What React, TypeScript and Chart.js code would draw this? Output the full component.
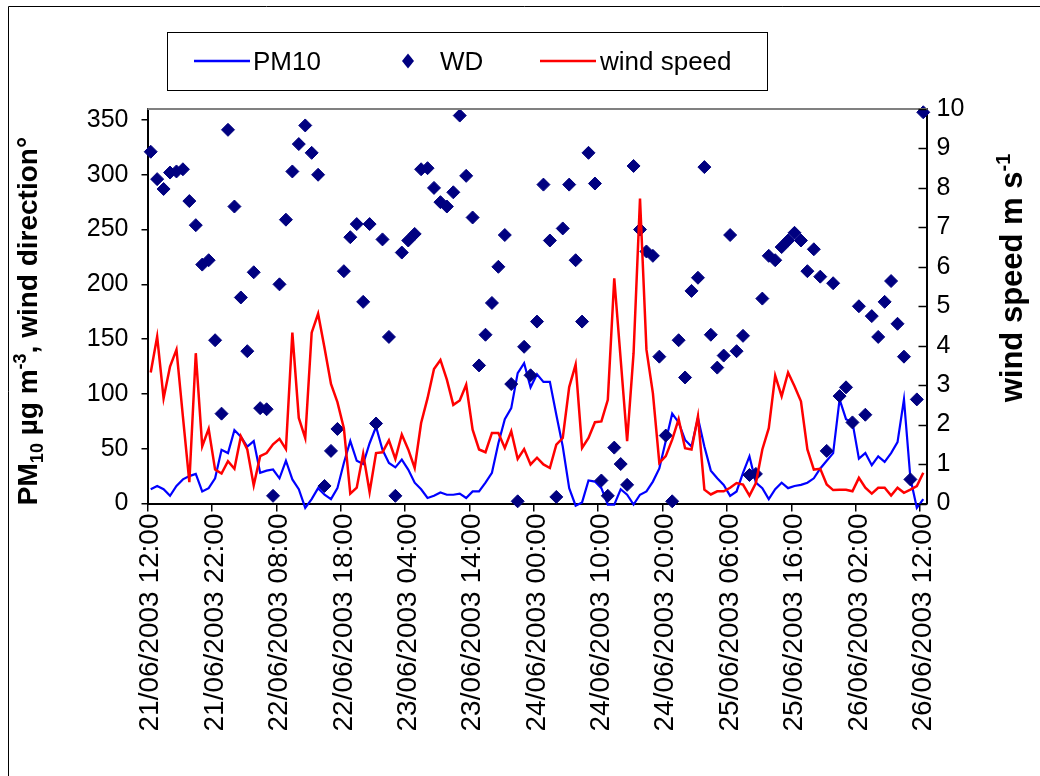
import React, { useEffect, useRef } from 'react';
import { Chart, registerables } from 'chart.js';
Chart.register(...registerables);

const FONT = "'Liberation Sans', Arial, sans-serif";

// Hourly categories from 21/06/2003 12:00 to 26/06/2003 12:00
const startDay = 21;
const startHour = 12;
const hourCount = 121;
const categories: string[] = Array.from({ length: hourCount }, (_, i) => {
  const t = startHour + i;
  const d = startDay + Math.floor(t / 24);
  const h = t % 24;
  return `${d}/06/2003 ${String(h).padStart(2, '0')}:00`;
});

const pm10 = [
  13, 16, 13, 7, 16, 22, 25, 27, 11, 14,
  23, 49, 46, 67, 61, 52, 57, 28, 30, 31,
  23, 39, 22, 13, -4, 4, 14, 8, 4, 14,
  37, 57, 39, 36, 55, 70, 49, 37, 33, 40,
  31, 19, 13, 5, 7, 10, 8, 8, 9, 5,
  11, 11, 19, 28, 55, 77, 87, 119, 128, 106,
  118, 111, 111, 81, 52, 14, -2, 1, 21, 20,
  14, -1, -1, 13, 8, -1, 8, 11, 20, 32,
  57, 82, 74, 58, 52, 78, 52, 30, 23, 17,
  7, 11, 28, 43, 19, 14, 4, 13, 19, 14,
  16, 17, 19, 23, 32, 39, 46, 95, 77, 74,
  41, 46, 35, 43, 38, 46, 56, 95, 23, -4,
  4,
];

const windDir = [
  321, 296, 287, 302, 303, 305, 276, 254, 218, 222,
  149, 82, 341, 271, 188, 139, 211, 87, 86, 7,
  200, 259, 303, 328, 345, 320, 300, 16, 48, 68,
  212, 243, 255, 184, 255, 73, 241, 152, 7, 229,
  240, 246, 305, 306, 288, 275, 271, 284, 354, 299,
  261, 126, 154, 183, 216, 245, 109, 2, 143, 117,
  166, 291, 240, 6, 251, 291, 222, 166, 320, 292,
  21, 7, 51, 36, 17, 308, 250, 230, 226, 134,
  62, 2, 149, 115, 194, 206, 307, 154, 124, 135,
  245, 139, 153, 26, 27, 187, 226, 222, 234, 240,
  247, 240, 212, 232, 207, 48, 201, 98, 106, 74,
  180, 81, 171, 152, 184, 203, 164, 134, 22, 95,
  357,
];

const windSpeed = [
  3.32, 4.23, 2.67, 3.47, 3.9, 2.2, 0.54, 3.81, 1.45, 1.89,
  0.86, 0.76, 1.07, 0.88, 1.7, 1.37, 0.46, 1.2, 1.28, 1.5,
  1.64, 1.38, 4.33, 2.17, 1.66, 4.33, 4.81, 3.94, 3.03, 2.57,
  1.91, 0.25, 0.4, 1.26, 0.29, 1.28, 1.3, 1.6, 1.13, 1.75,
  1.37, 0.9, 2.04, 2.67, 3.41, 3.64, 3.14, 2.5, 2.61, 3.01,
  1.87, 1.37, 1.3, 1.79, 1.79, 1.41, 1.83, 1.13, 1.38, 0.99,
  1.16, 0.99, 0.9, 1.49, 1.66, 2.95, 3.52, 1.41, 1.66, 2.06,
  2.08, 2.63, 5.71, 3.65, 1.58, 3.81, 7.73, 3.9, 2.8, 1.03,
  1.2, 1.62, 2.14, 1.4, 1.37, 2.21, 0.35, 0.23, 0.31, 0.31,
  0.4, 0.52, 0.48, 0.2, 0.52, 1.37, 1.91, 3.24, 2.72, 3.32,
  2.97, 2.59, 1.37, 0.86, 0.88, 0.48, 0.34, 0.35, 0.35, 0.31,
  0.65, 0.4, 0.25, 0.4, 0.4, 0.2, 0.4, 0.27, 0.35, 0.44,
  0.78,
];

const leftTicks = { min: 0, max: 360, step: 50 };
const rightTicks = { min: 0, max: 10, step: 1 };
const legendLabels = ['PM10', 'WD', 'wind speed'];

const W = 1040;
const H = 776;
const PLOT_LEFT = 147.5;
const PLOT_RIGHT = 926.5;
const PLOT_TOP = 109;
const PLOT_BOTTOM = 503.5;

const BLUE = '#0000ff';
const RED = '#ff0000';
const NAVY = '#000080';

type Seg = { t: string; k?: 'sub' | 'sup' };

function drawRich(ctx: CanvasRenderingContext2D, segs: Seg[], cx: number, cy: number, size: number) {
  const parts = segs.map((s) => {
    const fs = s.k ? Math.round(size * 0.64) : size;
    ctx.font = `bold ${fs}px ${FONT}`;
    return { ...s, fs, w: ctx.measureText(s.t).width };
  });
  const total = parts.reduce((a, p) => a + p.w, 0);
  ctx.save();
  ctx.translate(cx, cy);
  ctx.rotate(-Math.PI / 2);
  ctx.fillStyle = '#000';
  ctx.textBaseline = 'alphabetic';
  ctx.textAlign = 'left';
  let x = -total / 2;
  const base = size * 0.36;
  for (const p of parts) {
    ctx.font = `bold ${p.fs}px ${FONT}`;
    const dy = p.k === 'sub' ? size * 0.22 : p.k === 'sup' ? -size * 0.38 : 0;
    ctx.fillText(p.t, x, base + dy);
    x += p.w;
  }
  ctx.restore();
}

const extrasPlugin = {
  id: 'extras',
  afterDraw(chart: any) {
    const ctx: CanvasRenderingContext2D = chart.ctx;
    const { left, right, top } = chart.chartArea;
    ctx.save();

    // top edge of plot area
    ctx.strokeStyle = '#808080';
    ctx.lineWidth = 2;
    ctx.beginPath();
    ctx.moveTo(left, top);
    ctx.lineTo(right + 1, top);
    ctx.stroke();

    // inner tick marks of the right axis
    const y1 = chart.scales.y1;
    ctx.strokeStyle = '#000';
    ctx.lineWidth = 1.5;
    y1.ticks.forEach((t: any) => {
      const py = Math.round(y1.getPixelForValue(t.value)) + 0.5;
      ctx.beginPath();
      ctx.moveTo(right - 8, py);
      ctx.lineTo(right, py);
      ctx.stroke();
    });

    // outer frame
    ctx.strokeStyle = '#000';
    ctx.lineWidth = 1;
    ctx.beginPath();
    ctx.moveTo(8.5, H);
    ctx.lineTo(8.5, 6.5);
    ctx.lineTo(W, 6.5);
    ctx.stroke();

    // legend
    ctx.strokeStyle = '#000';
    ctx.lineWidth = 1;
    ctx.strokeRect(167.5, 32.5, 600, 58);
    ctx.font = `26px ${FONT}`;
    ctx.fillStyle = '#000';
    ctx.textBaseline = 'alphabetic';
    ctx.textAlign = 'left';
    const ly = 61;
    ctx.strokeStyle = BLUE;
    ctx.lineWidth = 2.5;
    ctx.beginPath();
    ctx.moveTo(194, ly);
    ctx.lineTo(250, ly);
    ctx.stroke();
    ctx.fillText(legendLabels[0], 253, 70);
    ctx.fillStyle = NAVY;
    ctx.beginPath();
    ctx.moveTo(408, ly - 7.5);
    ctx.lineTo(414, ly);
    ctx.lineTo(408, ly + 7.5);
    ctx.lineTo(402, ly);
    ctx.closePath();
    ctx.fill();
    ctx.fillStyle = '#000';
    ctx.fillText(legendLabels[1], 440, 70);
    ctx.strokeStyle = RED;
    ctx.beginPath();
    ctx.moveTo(540, ly);
    ctx.lineTo(596, ly);
    ctx.stroke();
    ctx.fillText(legendLabels[2], 600, 70);

    // axis titles
    drawRich(
      ctx,
      [{ t: 'PM' }, { t: '10', k: 'sub' }, { t: ' µg m' }, { t: '-3', k: 'sup' }, { t: ', wind direction°' }],
      27,
      321,
      28
    );
    drawRich(ctx, [{ t: 'wind speed m s' }, { t: '-1', k: 'sup' }], 1011, 278, 31);

    ctx.restore();
  },
};

export default function App() {
  const ref = useRef<HTMLCanvasElement>(null);
  useEffect(() => {
    document.body.style.margin = '0';
    const tickFont = { family: FONT, size: 25 };
    const chart = new Chart(ref.current as HTMLCanvasElement, {
      type: 'line',
      data: {
        labels: categories,
        datasets: [
          {
            label: legendLabels[0],
            data: pm10,
            yAxisID: 'y',
            borderColor: BLUE,
            backgroundColor: BLUE,
            borderWidth: 2.2,
            pointRadius: 0,
            tension: 0,
            clip: false as any,
            order: 3,
          },
          {
            label: legendLabels[1],
            data: windDir,
            yAxisID: 'y',
            showLine: false,
            pointStyle: 'rectRot',
            pointRadius: 6.5,
            pointBackgroundColor: NAVY,
            pointBorderColor: NAVY,
            pointBorderWidth: 1,
            clip: false as any,
            order: 2,
          },
          {
            label: legendLabels[2],
            data: windSpeed,
            yAxisID: 'y1',
            borderColor: RED,
            backgroundColor: RED,
            borderWidth: 2.5,
            pointRadius: 0,
            tension: 0,
            order: 1,
          },
        ],
      },
      options: {
        responsive: false,
        animation: false,
        devicePixelRatio: 1,
        layout: { padding: { top: PLOT_TOP, left: 0, right: 0, bottom: 0 } },
        plugins: { legend: { display: false }, tooltip: { enabled: false } },
        scales: {
          x: {
            type: 'category',
            offset: true,
            afterFit: (s: any) => {
              s.height = H - PLOT_BOTTOM;
            },
            grid: {
              display: true,
              drawOnChartArea: false,
              drawTicks: true,
              tickLength: 8,
              offset: true,
              lineWidth: 1.5,
              color: (c: any) => (c.index % 10 === 0 ? '#000' : 'rgba(0,0,0,0)'),
            },
            border: { display: true, color: '#000', width: 2 },
            ticks: {
              autoSkip: false,
              minRotation: 90,
              maxRotation: 90,
              padding: 2,
              color: '#000',
              font: { family: FONT, size: 28 },
              callback: (_v: any, i: number) => (i % 10 === 0 ? categories[i] : ''),
            },
          },
          y: {
            position: 'left',
            min: leftTicks.min,
            max: leftTicks.max,
            afterFit: (s: any) => {
              s.width = PLOT_LEFT;
            },
            ticks: { stepSize: leftTicks.step, includeBounds: false, padding: 13, color: '#000', font: tickFont },
            grid: { drawOnChartArea: false, drawTicks: true, tickLength: 6, color: '#000', lineWidth: 1.5 },
            border: { display: true, color: '#000', width: 2 },
          },
          y1: {
            position: 'right',
            min: rightTicks.min,
            max: rightTicks.max,
            afterFit: (s: any) => {
              s.width = W - PLOT_RIGHT;
            },
            ticks: { stepSize: rightTicks.step, padding: 10, color: '#000', font: tickFont },
            grid: { drawOnChartArea: false, drawTicks: false },
            border: { display: true, color: '#000', width: 2 },
          },
        },
      } as any,
      plugins: [extrasPlugin],
    });
    return () => chart.destroy();
  }, []);
  return (
    <div style={{ position: 'absolute', left: 0, top: 0, width: W, height: H, background: '#fff' }}>
      <canvas ref={ref} width={W} height={H} style={{ display: 'block' }} />
    </div>
  );
}
